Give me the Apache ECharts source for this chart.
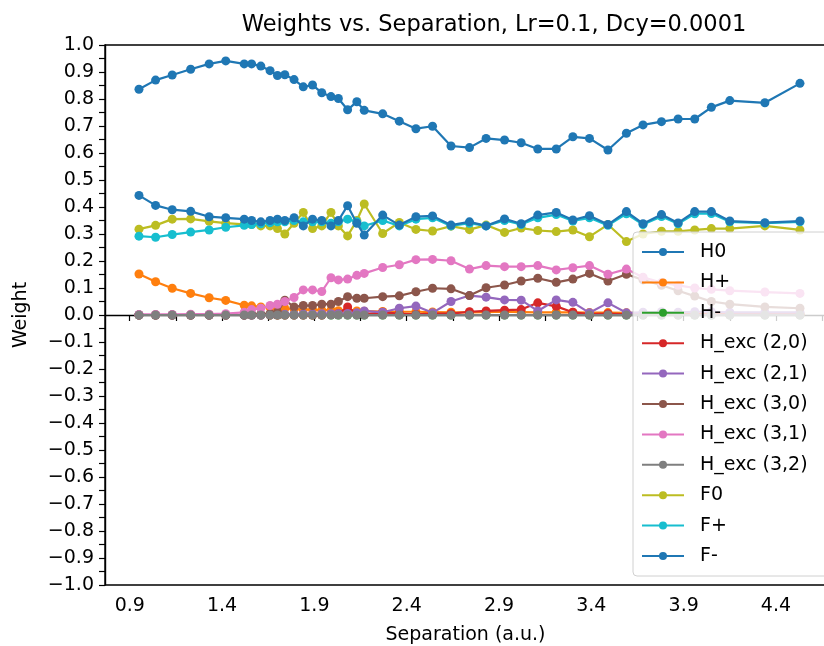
<!DOCTYPE html>
<html>
<head>
<meta charset="utf-8">
<script src="https://cdn.jsdelivr.net/npm/echarts@6/dist/echarts.min.js"></script>
<style>
  html, body { margin: 0; padding: 0; background: #fff; }
  #myChart { width: 824px; height: 646px; }
</style>
</head>
<body>
<div id="myChart"></div>
<script>
// ---------------- data ----------------
const sep = [0.95, 1.04, 1.13, 1.23, 1.33, 1.42, 1.52, 1.56, 1.61, 1.66, 1.70, 1.74, 1.79, 1.84, 1.89, 1.94, 1.99, 2.03, 2.08, 2.13, 2.17, 2.27, 2.36, 2.45, 2.54, 2.64, 2.74, 2.83, 2.93, 3.02, 3.11, 3.21, 3.30, 3.39, 3.49, 3.59, 3.68, 3.78, 3.87, 3.96, 4.05, 4.15, 4.34, 4.53];

const h0 = [0.836, 0.870, 0.889, 0.910, 0.930, 0.941, 0.930, 0.930, 0.922, 0.905, 0.887, 0.890, 0.872, 0.845, 0.852, 0.823, 0.809, 0.802, 0.760, 0.790, 0.758, 0.745, 0.718, 0.690, 0.699, 0.626, 0.620, 0.654, 0.648, 0.638, 0.615, 0.615, 0.660, 0.654, 0.611, 0.673, 0.704, 0.716, 0.726, 0.726, 0.769, 0.794, 0.786, 0.858];
const hPlus = [0.152, 0.123, 0.099, 0.080, 0.064, 0.054, 0.036, 0.034, 0.030, 0.028, 0.025, 0.024, 0.022, 0.020, 0.020, 0.018, 0.018, 0.016, 0.015, 0.015, 0.014, 0.013, 0.012, 0.012, 0.011, 0.010, 0.010, 0.011, 0.012, 0.011, 0.010, 0.010, 0.010, 0.009, 0.009, 0.008, 0.007, 0.006, 0.006, 0.005, 0.005, 0.005, 0.004, 0.004];
const hMinus = [0, 0, 0, 0, 0, 0, 0, 0, 0, 0, 0, 0, 0, 0, 0, 0, 0, 0, 0, 0, 0, 0, 0, 0, 0, 0, 0, 0, 0, 0, 0, 0, 0, 0, 0, 0, 0, 0, 0, 0, 0, 0, 0, 0];
const hExc20 = [0, 0, 0, 0, 0, 0, 0, 0, 0, 0, 0, 0, 0, 0, 0, 0, 0.003, 0.005, 0.030, 0.005, 0.002, 0.010, 0.005, 0.002, 0.005, 0.005, 0.012, 0.015, 0.018, 0.020, 0.045, 0.032, 0.010, 0.003, 0.005, 0.002, 0.002, 0.002, 0.002, 0.002, 0.002, 0.002, 0.002, 0.002];
const hExc21 = [0, 0, 0, 0, 0, 0, 0, 0, 0, 0.002, 0.002, 0.003, 0.003, 0.004, 0.004, 0.005, 0.005, 0.005, 0.006, 0.008, 0.015, 0.010, 0.025, 0.033, 0.008, 0.050, 0.072, 0.066, 0.056, 0.055, 0.015, 0.056, 0.047, 0.008, 0.045, 0.008, 0.010, 0.012, 0.010, 0.012, 0.012, 0.010, 0.010, 0.010];
const hExc30 = [0, 0, 0, 0, 0, 0, 0, 0.002, 0.003, 0.005, 0.010, 0.055, 0.030, 0.035, 0.035, 0.040, 0.040, 0.050, 0.068, 0.062, 0.062, 0.068, 0.071, 0.086, 0.099, 0.097, 0.072, 0.101, 0.111, 0.126, 0.136, 0.121, 0.133, 0.154, 0.126, 0.151, 0.130, 0.110, 0.090, 0.070, 0.050, 0.040, 0.030, 0.025];
const hExc31 = [0.002, 0.002, 0.002, 0.003, 0.003, 0.005, 0.010, 0.020, 0.025, 0.035, 0.040, 0.050, 0.065, 0.093, 0.093, 0.087, 0.138, 0.130, 0.133, 0.147, 0.154, 0.176, 0.186, 0.205, 0.206, 0.201, 0.170, 0.183, 0.179, 0.179, 0.183, 0.167, 0.175, 0.183, 0.151, 0.170, 0.140, 0.120, 0.110, 0.100, 0.095, 0.090, 0.085, 0.080];
const hExc32 = [0, 0, 0, 0, 0, 0, 0, 0, 0, 0, 0, 0, 0, 0, 0, 0, 0, 0, 0, 0, 0, 0, 0, 0, 0, 0, 0, 0, 0, 0, 0, 0, 0, 0, 0, 0, 0, 0, 0, 0, 0, 0, 0, 0];
const f0 = [0.318, 0.332, 0.355, 0.356, 0.347, 0.340, 0.336, 0.335, 0.330, 0.330, 0.320, 0.300, 0.340, 0.380, 0.320, 0.330, 0.380, 0.330, 0.293, 0.350, 0.411, 0.302, 0.343, 0.317, 0.311, 0.329, 0.316, 0.333, 0.306, 0.322, 0.313, 0.309, 0.315, 0.290, 0.335, 0.272, 0.300, 0.310, 0.310, 0.315, 0.320, 0.320, 0.330, 0.315];
const fPlus = [0.292, 0.288, 0.298, 0.307, 0.315, 0.325, 0.332, 0.335, 0.338, 0.342, 0.345, 0.345, 0.350, 0.345, 0.345, 0.345, 0.340, 0.345, 0.355, 0.345, 0.330, 0.350, 0.330, 0.355, 0.360, 0.330, 0.340, 0.330, 0.350, 0.335, 0.360, 0.372, 0.348, 0.360, 0.332, 0.375, 0.335, 0.365, 0.338, 0.375, 0.376, 0.345, 0.340, 0.345];
const fMinus = [0.443, 0.406, 0.390, 0.384, 0.364, 0.360, 0.355, 0.350, 0.345, 0.350, 0.355, 0.350, 0.360, 0.330, 0.355, 0.350, 0.330, 0.350, 0.405, 0.340, 0.296, 0.370, 0.333, 0.364, 0.367, 0.333, 0.345, 0.330, 0.356, 0.338, 0.370, 0.380, 0.352, 0.368, 0.335, 0.383, 0.338, 0.372, 0.341, 0.383, 0.383, 0.348, 0.342, 0.348];

const seriesNames = ["H0", "H+", "H-", "H_exc (2,0)", "H_exc (2,1)", "H_exc (3,0)", "H_exc (3,1)", "H_exc (3,2)", "F0", "F+", "F-"];
const seriesValues = [h0, hPlus, hMinus, hExc20, hExc21, hExc30, hExc31, hExc32, f0, fPlus, fMinus];
// matplotlib tab10, F- wraps back to blue
const colors = ["#1f77b4", "#ff7f0e", "#2ca02c", "#d62728", "#9467bd", "#8c564b", "#e377c2", "#7f7f7f", "#bcbd22", "#17becf", "#1f77b4"];

const xLabels = [0.9, 1.4, 1.9, 2.4, 2.9, 3.4, 3.9, 4.4];
const xTicks = [0.9, 1.15, 1.4, 1.65, 1.9, 2.15, 2.4, 2.65, 2.9, 3.15, 3.4, 3.65, 3.9, 4.15, 4.4, 4.65];

// ---------------- chart ----------------
const font = "DejaVu Sans";
let chartDom = document.getElementById("myChart");
let myChart = echarts.init(chartDom);
let option;

function fmt(v) {
  if (Math.abs(v) < 1e-9) return "0.0";
  return v.toFixed(1).replace("-", "\u2212");
}

option = {
  animation: false,
  color: colors,
  title: {
    text: "Weights vs. Separation, Lr=0.1, Dcy=0.0001",
    left: 489,
    top: 9,
    textAlign: "center",
    textStyle: { fontFamily: font, fontSize: 22.5, fontWeight: "normal", color: "#000" },
  },
  legend: {
    orient: "vertical",
    left: 633,
    top: 232,
    data: seriesNames,
    itemWidth: 42,
    itemHeight: 10,
    itemGap: 10.4,
    padding: [10, 60, 10, 8],
    backgroundColor: "rgba(255,255,255,0.8)",
    borderColor: "#d0d0d0",
    borderWidth: 1,
    borderRadius: 4,
    textStyle: { fontFamily: font, fontSize: 19, lineHeight: 20, color: "#000", padding: [0, 0, 0, 11] },
  },
  grid: {
    left: 105,
    right: -2,
    top: 45,
    bottom: 61,
    outerBoundsMode: "none", // keep the plot box where it is
    show: true,
    borderColor: "#000",
    borderWidth: 1.4,
  },
  xAxis: {
    type: "value",
    min: 0.766,
    max: 4.671,
    name: "Separation (a.u.)",
    nameLocation: "middle",
    nameGap: 41,
    nameTextStyle: { fontFamily: font, fontSize: 19, color: "#000" },
    splitLine: { show: false },
    axisLine: { show: true, lineStyle: { color: "#000", width: 1.4 } },
    axisTick: { show: true, customValues: xTicks, length: 6, lineStyle: { color: "#000", width: 1.2 } },
    axisLabel: { customValues: xLabels, formatter: fmt, margin: 12, fontFamily: font, fontSize: 19, color: "#000" },
  },
  yAxis: {
    type: "value",
    min: -1,
    max: 1,
    interval: 0.1,
    name: "Weight",
    nameLocation: "middle",
    nameGap: 74,
    nameTextStyle: { fontFamily: font, fontSize: 19, color: "#000" },
    splitLine: { show: false },
    axisLine: { show: true, lineStyle: { color: "#000", width: 1.4 } },
    axisTick: { show: true, length: 6, lineStyle: { color: "#000", width: 1.2 } },
    minorTick: { show: true, splitNumber: 2, length: 6, lineStyle: { color: "#000", width: 1.2 } },
    axisLabel: { formatter: fmt, margin: 11, fontFamily: font, fontSize: 19, color: "#000" },
  },
  series: seriesNames.map((name, i) => ({
    name: name,
    type: "line",
    data: sep.map((x, j) => [x, seriesValues[i][j]]),
    symbol: "circle",
    symbolSize: 9,
    lineStyle: { width: 2.2, color: colors[i] },
    itemStyle: { color: colors[i] },
    z: 2 + i * 0.01,
  })),
};
myChart.setOption(option);

window.onresize = function() {
  myChart.resize();
};
</script>
</body>
</html>
